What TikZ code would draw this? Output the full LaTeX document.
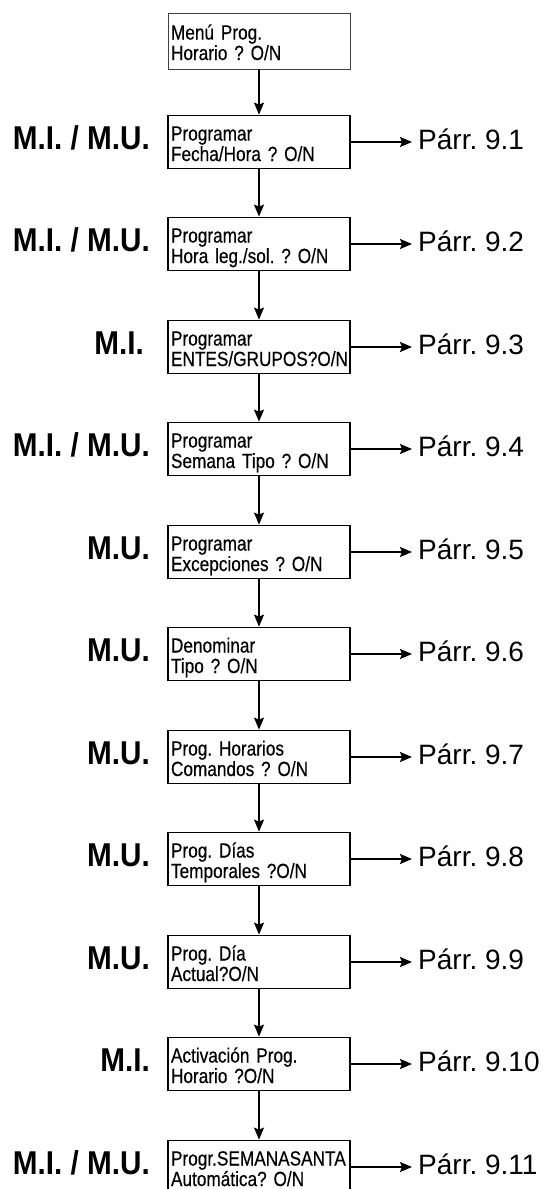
\documentclass[tikz,border=0pt]{standalone}
\usepackage{fontspec}
\setmainfont{Liberation Sans}
\newfontfamily\whofont[FakeStretch=0.9]{Liberation Sans}
\newfontfamily\boxfont[FakeStretch=0.84, WordSpace=0.4, FakeBold=0.4]{Liberation Sans}
\usetikzlibrary{arrows.meta,positioning}
\frenchspacing

\begin{document}
\begin{tikzpicture}[
  x=1pt,
  y=-1pt,
  flow/.style={-{Stealth[length=12pt, width=10pt, inset=2pt]}, line width=1.6pt},
  menubox/.style={draw, line width=1.8pt, minimum width=182pt, minimum height=53pt,
    text width=176pt, inner xsep=3pt, inner ysep=0pt, align=left,
    text height=14pt, text depth=17pt,
    font={\boxfont\fontsize{20.5}{20.5}\selectfont\hyphenpenalty=10000\frenchspacing}},
  who/.style={anchor=east, inner sep=0pt, font={\whofont\bfseries\fontsize{33}{33}\selectfont}},
  parr/.style={anchor=west, inner xsep=6pt, inner ysep=0pt, font={\fontsize{28}{28}\selectfont}}
]
  % Sheet: 545 x 1189 units, y downwards, the last box runs off the bottom
  \useasboundingbox (0,0) rectangle (545,1189);
  \clip (0,0) rectangle (545,1189);
  % Entry of the menu
  \node[menubox, line width=0.8pt, draw=black!75, minimum height=56pt] (m1) at (259,41) {Menú Prog.\\Horario ? O/N};
  % Questions: number / centre y / text / who / right edge of who / paragraph
  \foreach \n/\y/\txt/\who/\wx/\p in {
    2/142/{Programar\\Fecha/Hora ? O/N}/{M.I. / M.U.}/150/9.1,
    3/244/{Programar\\Hora leg./sol. ? O/N}/{M.I. / M.U.}/150/9.2,
    4/347/{Programar\\ENTES/GRUPOS?O/N}/{M.I.}/144/9.3,
    5/449/{Programar\\Semana Tipo ? O/N}/{M.I. / M.U.}/150/9.4,
    6/552/{Programar\\Excepciones ? O/N}/{M.U.}/150/9.5,
    7/654/{Denominar\\Tipo ? O/N}/{M.U.}/150/9.6,
    8/757/{Prog. Horarios\\Comandos ? O/N}/{M.U.}/150/9.7,
    9/859/{Prog. Días\\Temporales ?O/N}/{M.U.}/150/9.8,
    10/962/{Prog. Día\\Actual?O/N}/{M.U.}/150/9.9,
    11/1064/{Activación Prog.\\Horario ?O/N}/{M.I.}/150/9.10,
    12/1167/{Progr.SEMANASANTA\\Automática? O/N}/{M.I. / M.U.}/150/9.11} {
    \node[menubox] (m\n) at (259,\y) {\txt};
    \node[who] (w\n) at (\wx,\y-4) {\who};
    \node[parr] (p\n) at (412,\y-3) {Párr. \p};
    \draw[flow] (m\n.east) -- (m\n.east -| p\n.west);
  }
  % Down the column
  \foreach \n [remember=\n as \last (initially 1)] in {2,...,12}
    \draw[flow] (m\last) -- (m\n);
\end{tikzpicture}
\end{document}
